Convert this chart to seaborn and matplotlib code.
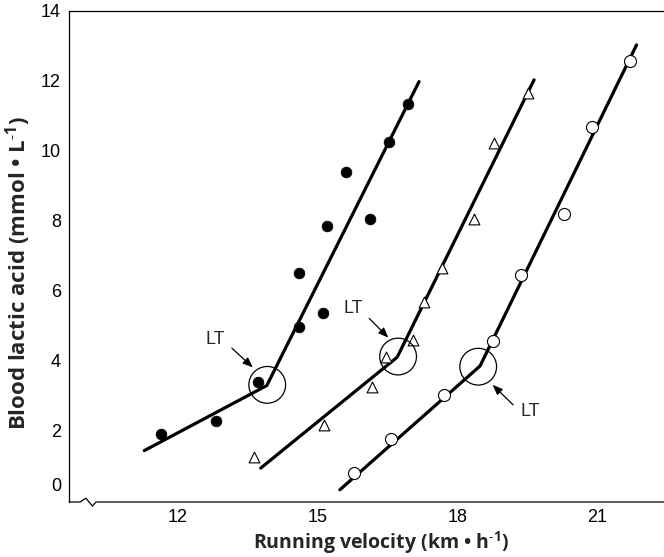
import matplotlib
matplotlib.use("Agg")
import matplotlib.pyplot as plt
import numpy as np
import pandas as pd
import seaborn as sns

# ── data ─────────────────────────────────────────────────────────────────────

# runner A (filled circles)
a_speed   = [11.64, 12.82, 13.72, 14.61, 14.61, 15.12, 15.20, 15.61, 16.13, 16.53, 16.95]
a_lactate = [1.90, 2.28, 3.38, 4.97, 6.50, 5.36, 7.85, 9.39, 8.04, 10.25, 11.33]
a_fit_speed   = [11.28, 13.91, 17.18]
a_fit_lactate = [1.43, 3.29, 11.98]

# runner B (open triangles)
b_speed   = [13.64, 15.14, 16.17, 16.48, 17.05, 17.29, 17.67, 18.36, 18.79, 19.52]
b_lactate = [1.24, 2.15, 3.25, 4.12, 4.58, 5.67, 6.64, 8.05, 10.23, 11.66]
b_fit_speed   = [13.78, 16.71, 19.65]
b_fit_lactate = [0.93, 4.10, 12.03]

# runner C (open circles)
c_speed   = [15.78, 16.58, 17.71, 18.76, 19.37, 20.30, 20.89, 21.70]
c_lactate = [0.80, 1.76, 3.02, 4.57, 6.44, 8.19, 10.68, 12.58]
c_fit_speed   = [15.48, 18.49, 21.85]
c_fit_lactate = [0.31, 3.85, 13.03]

# lactate threshold (LT) break points
lt_speed   = [13.92, 16.73, 18.45]
lt_lactate = [3.31, 4.12, 3.83]

x_ticks = [10.5, 12, 13.5, 15, 16.5, 18, 19.5, 21]
x_tick_labels = ["", "12", "", "15", "", "18", "", "21"]
y_ticks = [0.46, 2, 4, 6, 8, 10, 12, 14]
y_tick_labels = ["0", "2", "4", "6", "8", "10", "12", "14"]

# ── figure ───────────────────────────────────────────────────────────────────

sns.set_theme(style="white")
plt.rcParams["font.family"] = ["Liberation Sans", "DejaVu Sans"]
plt.rcParams["mathtext.fontset"] = "custom"
plt.rcParams["mathtext.rm"] = "Open Sans:bold"

fig = plt.figure(figsize=(6.64, 5.57), dpi=100)
ax = fig.add_axes([0.1044, 0.0987, 0.8956, 0.8816])

line_kw = dict(color="black", linewidth=2.3, sort=False, estimator=None, ax=ax)
for xs, ys in [(a_fit_speed, a_fit_lactate),
               (b_fit_speed, b_fit_lactate),
               (c_fit_speed, c_fit_lactate)]:
    sns.lineplot(x=xs, y=ys, **line_kw)

sns.scatterplot(x=a_speed, y=a_lactate, marker="o", s=60, color="black",
                edgecolor="black", linewidth=0.5, ax=ax, zorder=3)
sns.scatterplot(x=b_speed, y=b_lactate, marker="^", s=60, color="white",
                edgecolor="black", linewidth=0.8, ax=ax, zorder=3)
sns.scatterplot(x=c_speed, y=c_lactate, marker="o", s=75, color="white",
                edgecolor="black", linewidth=0.8, ax=ax, zorder=3)

# LT rings
sns.scatterplot(x=lt_speed, y=lt_lactate, marker="o", s=700, facecolor="none",
                edgecolor="black", linewidth=0.9, ax=ax, zorder=4)

# LT labels and arrows
lt_text = [(12.80, 4.62), (15.77, 5.50), (19.56, 2.54)]
lt_arrow = [((13.16, 4.36), (13.61, 3.81)),
            ((16.11, 5.21), (16.52, 4.66)),
            ((19.20, 2.74), (18.76, 3.31))]
for (tx, ty), (start, end) in zip(lt_text, lt_arrow):
    ax.text(tx, ty, "LT", fontsize=13, ha="center", va="center")
    ax.annotate("", xy=end, xytext=start,
                arrowprops=dict(arrowstyle="-|>,head_length=0.5,head_width=0.2",
                                color="black", lw=0.9, shrinkA=0, shrinkB=0))

ax.set_xlim(9.67, 22.44)
ax.set_ylim(-0.04, 14.0)
ax.set_xticks(x_ticks)
ax.set_xticklabels(x_tick_labels)
ax.set_yticks(y_ticks)
ax.set_yticklabels(y_tick_labels)
ax.tick_params(direction="in", length=7.5, width=0.8, colors="black",
               labelsize=13, pad=6)
ax.tick_params(axis="x", pad=5)

for side in ["left", "top"]:
    ax.spines[side].set_color("black")
    ax.spines[side].set_linewidth(0.9)
ax.spines["right"].set_visible(False)
ax.spines["bottom"].set_visible(False)

# bottom axis line with a break mark near the origin
bx = [0, 0.018, 0.028, 0.0387, 0.0449, 1]
by = [0, 0, 0.0078, -0.0083, 0, 0]
ax.plot(bx, by, transform=ax.transAxes, color="black", lw=0.9, clip_on=False)

bold = dict(fontweight="bold", family=["Open Sans", "DejaVu Sans"])
ax.set_xlabel("Running velocity (km • h$^{\\mathregular{\u20101}}$)", fontsize=14, **bold)
ax.set_ylabel("Blood lactic acid (mmol • L$^{\\mathregular{\u20101}}$)", fontsize=16, **bold)
ax.xaxis.set_label_coords(0.525, -0.056)
ax.yaxis.set_label_coords(-0.061, 0.466)

fig.savefig("out.png", dpi=100)
